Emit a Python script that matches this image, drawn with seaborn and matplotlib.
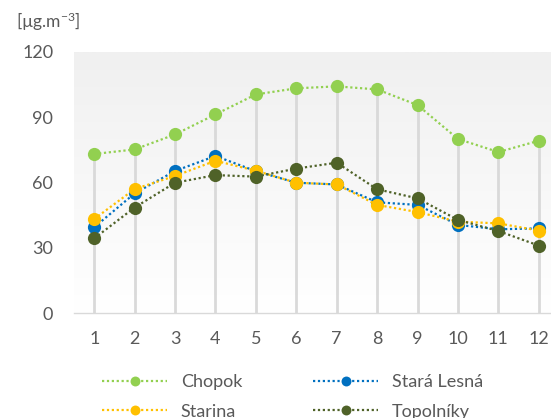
import numpy as np
import pandas as pd
import matplotlib
matplotlib.use("Agg")
import matplotlib.pyplot as plt
from matplotlib.colors import LinearSegmentedColormap
import seaborn as sns

months = [1, 2, 3, 4, 5, 6, 7, 8, 9, 10, 11, 12]
chopok = [73.1, 75.2, 82.1, 91.3, 100.5, 103.3, 104.2, 102.8, 95.6, 80.0, 74.0, 79.2]
stara_lesna = [39.4, 55.0, 65.3, 72.2, 65.2, 59.9, 59.1, 50.9, 49.7, 40.5, 38.5, 38.9]
starina = [43.2, 57.0, 63.0, 70.0, 65.4, 59.9, 59.1, 49.7, 46.4, 42.0, 41.2, 37.9]
topolniky = [34.3, 48.5, 59.9, 63.4, 62.7, 66.4, 69.1, 56.9, 52.7, 42.8, 37.7, 31.0]
series_names = ["Chopok", "Stará Lesná", "Starina", "Topolníky"]
colors = ["#92D050", "#0070C0", "#FFC000", "#4F6228"]
yticks = [0, 30, 60, 90, 120]

sns.set_theme(style="white")
plt.rcParams["font.family"] = ["Lato", "DejaVu Sans"]
plt.rcParams["mathtext.default"] = "regular"

W, H = 551, 418
fig = plt.figure(figsize=(W / 100, H / 100), dpi=100)
left, right, top, bottom = 74, 559, 52, 313
ax = fig.add_axes([left / W, 1 - bottom / H, (right - left) / W, (bottom - top) / H])

# gradient background
grad = np.linspace(1, 0, 256).reshape(-1, 1)
cmap = LinearSegmentedColormap.from_list("g", ["#F0F0F0", "#FFFFFF"])
ax.imshow(grad, extent=[0.5, 12.5, 0, 120], aspect="auto", cmap=cmap,
          origin="lower", zorder=0, vmin=0, vmax=1)

df = pd.DataFrame({"Chopok": chopok, "Stará Lesná": stara_lesna,
                   "Starina": starina, "Topolníky": topolniky}, index=months)

# drop lines
ax.vlines(months, 0, df.max(axis=1).values, color="#D9D9D9", lw=2.0, zorder=1)

for name, c in zip(series_names, colors):
    sns.lineplot(x=months, y=df[name].values, ax=ax, color=c, lw=1.6,
                 linestyle=(0, (1, 1.2)), marker="o", markersize=9.5,
                 markeredgewidth=0, label=name, zorder=3)

ax.set_xlim(0.5, 12.5)
ax.set_ylim(0, 120)
ax.set_xticks(months)
ax.set_yticks(yticks)
ax.tick_params(axis="both", length=0, labelsize=13, labelcolor="#595959")
ax.tick_params(axis="x", pad=13)
ax.tick_params(axis="y", pad=15)
for s in ["top", "right", "left"]:
    ax.spines[s].set_visible(False)
ax.spines["bottom"].set_color("#D9D9D9")
ax.spines["bottom"].set_linewidth(1)
ax.set_xlabel("")
ax.set_ylabel("")

fig.text(16 / W, 1 - 22 / H, r"[µg.m$^{-3}$]", ha="left", va="center",
         fontsize=12.5, color="#595959")

handles, labels = ax.get_legend_handles_labels()
ax.get_legend().remove()
order = [0, 2, 1, 3]
leg = fig.legend([handles[i] for i in order], [labels[i] for i in order],
                 ncol=2, loc="upper left", bbox_to_anchor=(86 / W, 1 - 358 / H),
                 frameon=False, fontsize=13, handlelength=3.6, markerscale=0.75,
                 columnspacing=3.95, labelspacing=0.75, handletextpad=0.75,
                 labelcolor="#595959")

fig.savefig("out.png", dpi=100)
